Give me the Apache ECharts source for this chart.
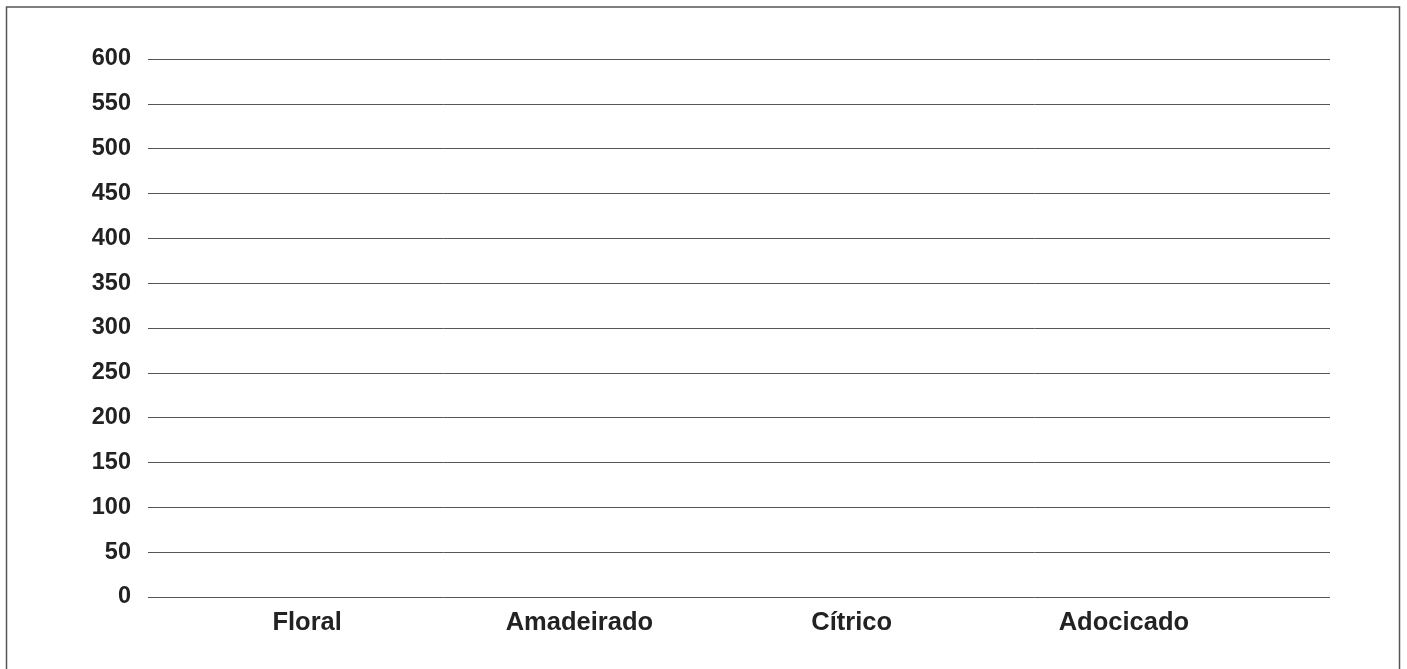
<!DOCTYPE html>
<html>
<head>
<meta charset="utf-8">
<script src="https://cdn.jsdelivr.net/npm/echarts@6/dist/echarts.min.js"></script>
<style>
html,body{margin:0;padding:0;background:#fff;}
#chart{width:1407px;height:669px;}
</style>
</head>
<body>
<div id="chart"></div>
<script>
const categories = ['Floral', 'Amadeirado', 'Cítrico', 'Adocicado'];
const values = [null, null, null, null];
const yMin = 0, yMax = 600, yStep = 50;

const FONT = '"Liberation Sans Narrow", "Liberation Sans", Arial, sans-serif';
const chart = echarts.init(document.getElementById('chart'), null, {renderer: 'canvas'});
chart.setOption({
  animation: false,
  backgroundColor: '#fff',
  grid: [
    {left: 148, right: 77, top: 59, bottom: 72, containLabel: false},
    {left: 171, right: 147, top: 59, bottom: 72, containLabel: false}
  ],
  xAxis: [
    {gridIndex: 0, type: 'category', data: categories, show: false},
    {gridIndex: 1, type: 'category', data: categories,
     axisLine: {show: false}, axisTick: {show: false},
     axisLabel: {color: '#222', fontFamily: FONT, fontWeight: 'bold', fontSize: 25.5, margin: 13}}
  ],
  yAxis: [
    {gridIndex: 0, type: 'value', min: yMin, max: yMax, interval: yStep,
     axisLine: {show: false}, axisTick: {show: false},
     axisLabel: {color: '#222', fontFamily: FONT, fontWeight: 'bold', fontSize: 23.5, margin: 17},
     splitLine: {show: true, lineStyle: {color: '#555', width: 1}}},
    {gridIndex: 1, type: 'value', min: yMin, max: yMax, interval: yStep, show: false, splitLine: {show: false}}
  ],
  series: [
    {type: 'bar', xAxisIndex: 1, yAxisIndex: 1, data: values, itemStyle: {color: '#4472c4'}}
  ],
  graphic: [
    {type: 'polyline', silent: true,
     shape: {points: [[6.5, 700], [6.5, 7], [1399.5, 7], [1399.5, 700]]},
     style: {stroke: '#555', lineWidth: 1.5, fill: null}}
  ]
});
</script>
</body>
</html>
